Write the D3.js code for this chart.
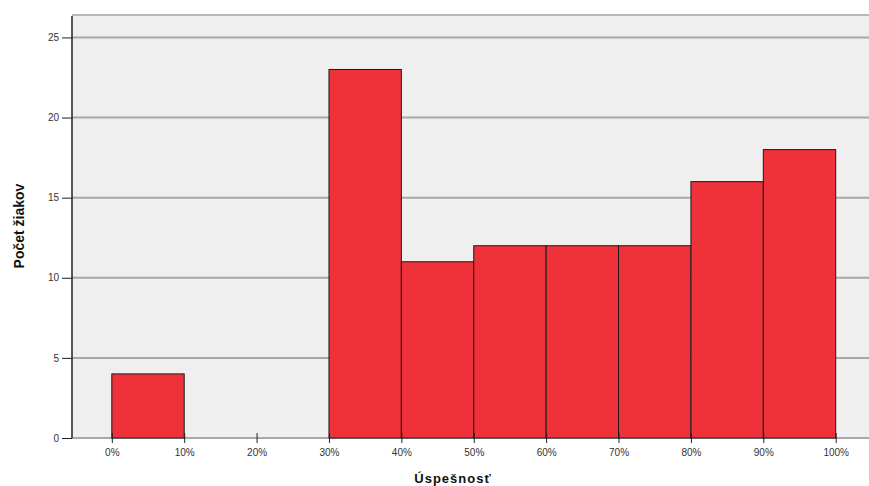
<!DOCTYPE html>
<meta charset="utf-8">
<style>
body { margin: 0; background: #fff; }
svg { display: block; font-family: "Liberation Sans", Arial, sans-serif; }
.grid line { stroke: #a8a8a8; stroke-width: 2px; }
.axis text { fill: #333; font-size: 10px; }
.axis line, .axis path { stroke: #222; }
.bar { fill: #ef323a; stroke: #1a1a1a; stroke-width: 1px; }
</style>
<svg width="869" height="486"></svg>
<script src="https://cdn.jsdelivr.net/npm/d3@7"></script>
<script>

// histogram bins (lower edge in %) and counts
var binStarts = [0, 10, 20, 30, 40, 50, 60, 70, 80, 90];
var counts = [4, 0, 0, 23, 11, 12, 12, 12, 16, 18];
var xTicks = [0, 10, 20, 30, 40, 50, 60, 70, 80, 90, 100];
var yTicks = [0, 5, 10, 15, 20, 25];

var svg = d3.select("svg"),
    margin = {top: 15, right: 0, bottom: 48, left: 72},
    width = +svg.attr("width") - margin.left - margin.right,
    height = +svg.attr("height") - margin.top - margin.bottom;

var g = svg.append("g").attr("transform", "translate(" + margin.left + "," + margin.top + ")");

var x = d3.scaleLinear().domain([-5.5, 104.6]).range([0, width]),
    y = d3.scaleLinear().domain([0, 26.4]).range([height, 0]);

// plot background
g.append("rect")
    .attr("width", width)
    .attr("height", height)
    .attr("fill", "#efefef");

// top border + gridlines
g.append("line")
    .attr("x1", 0).attr("x2", width)
    .attr("y1", 0).attr("y2", 0)
    .attr("stroke", "#b8b8b8").attr("stroke-width", 2);

g.append("g")
    .attr("class", "grid")
  .selectAll("line")
  .data(yTicks.slice(1))
  .enter().append("line")
    .attr("x1", 0).attr("x2", width)
    .attr("y1", function(d) { return y(d); })
    .attr("y2", function(d) { return y(d); });

g.append("line")
    .attr("x1", 0).attr("x2", width)
    .attr("y1", height).attr("y2", height)
    .attr("stroke", "#a8a8a8").attr("stroke-width", 2);

// bars
var data = binStarts.map(function(b, i) { return {x0: b, x1: b + 10, n: counts[i]}; })
    .filter(function(d) { return d.n > 0; });

g.selectAll(".bar")
  .data(data)
  .enter().append("rect")
    .attr("class", "bar")
    .attr("x", function(d) { return x(d.x0); })
    .attr("y", function(d) { return y(d.n); })
    .attr("width", function(d) { return x(d.x1) - x(d.x0); })
    .attr("height", function(d) { return height - y(d.n); });

// axes
g.append("g")
    .attr("class", "axis axis--x")
    .attr("transform", "translate(0," + height + ")")
    .call(d3.axisBottom(x).tickValues(xTicks).tickSize(5).tickPadding(6)
      .tickFormat(function(d) { return d + "%"; }))
    .call(function(a) { a.select(".domain").remove(); })
    .selectAll(".tick line").attr("transform", "translate(0,-5)").attr("y2", 10);

g.append("g")
    .attr("class", "axis axis--y")
    .call(d3.axisLeft(y).tickValues(yTicks).tickSize(10).tickPadding(3))
    .call(function(a) {
      a.select(".domain").attr("d", "M0," + height + "V1").attr("stroke-width", 1.5);
      a.selectAll(".tick line").attr("stroke", "#444");
    });

// axis titles
svg.append("text")
    .attr("x", 453)
    .attr("y", 483)
    .attr("text-anchor", "middle")
    .style("font-size", "13px")
    .style("font-weight", "bold")
    .style("letter-spacing", "1px")
    .attr("fill", "#111")
    .text("Úspešnosť");

svg.append("text")
    .attr("transform", "translate(24,226) rotate(-90)")
    .attr("text-anchor", "middle")
    .style("font-size", "14px")
    .style("font-weight", "bold")
    .attr("fill", "#111")
    .text("Počet žiakov");

</script>
